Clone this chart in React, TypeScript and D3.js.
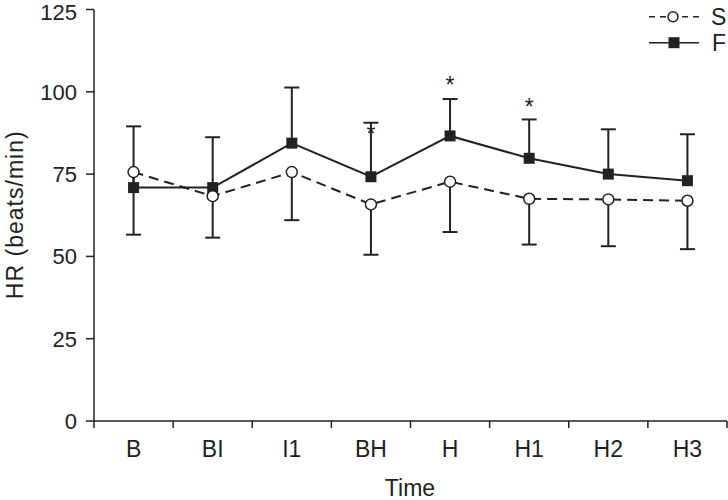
import React from 'react';
import * as d3 from 'd3';

// time points
const categories = ['B', 'BI', 'I1', 'BH', 'H', 'H1', 'H2', 'H3'];

// S group: mean and SD (drawn downward)
const sMean = [75.6, 68.3, 75.6, 65.8, 72.7, 67.5, 67.3, 66.9];
const sSD = [19.0, 12.6, 14.6, 15.3, 15.3, 13.9, 14.2, 14.7];

// F group: mean and SD (drawn upward)
const fMean = [70.9, 70.9, 84.4, 74.2, 86.6, 79.8, 75.0, 73.0];
const fSD = [18.6, 15.3, 16.9, 16.4, 11.2, 11.8, 13.6, 14.1];

// significance marks
const starCats = ['BH', 'H', 'H1'];
const starValues = [89.2, 104.0, 97.4];

const yTicks = [0, 25, 50, 75, 100, 125];

const W = 728;
const H = 500;
const ink = '#222';
const font = '"Liberation Sans", Arial, Helvetica, sans-serif';

export default function App() {
  const x = d3.scaleBand<string>().domain(categories).range([94, 727]).padding(0);
  const y = d3.scaleLinear().domain([0, 125]).range([421, 9.5]);
  const cx = (c: string) => (x(c) as number) + x.bandwidth() / 2;

  const line = d3.line<number>()
    .x((_, i) => cx(categories[i]))
    .y(d => y(d));

  const cap = 7.5;

  return (
    <svg width={W} height={H} style={{ position: 'absolute', left: 0, top: 0, background: '#fff' }}
      fontFamily={font}>
      {/* y axis */}
      <line x1={94} x2={94} y1={y(125)} y2={y(0) + 7} stroke={ink} strokeWidth={1.5} />
      {yTicks.map(t => (
        <g key={t}>
          <line x1={86} x2={94} y1={y(t)} y2={y(t)} stroke={ink} strokeWidth={1.5} />
          <text x={77} y={Math.max(y(t), 12)} dy="0.36em" textAnchor="end" fontSize={22} fill={ink}>{t}</text>
        </g>
      ))}
      <text transform={`translate(23,${y(62.5)}) rotate(-90)`} textAnchor="middle" fontSize={23}
        textLength={168} lengthAdjust="spacing" fill={ink}>
        HR (beats/min)
      </text>

      {/* x axis */}
      <line x1={94} x2={727} y1={y(0)} y2={y(0)} stroke={ink} strokeWidth={1.5} />
      {categories.map(c => (
        <line key={'t' + c} x1={(x(c) as number) + x.bandwidth()} x2={(x(c) as number) + x.bandwidth()}
          y1={y(0)} y2={y(0) + 7} stroke={ink} strokeWidth={1.5} />
      ))}
      {categories.map(c => (
        <text key={'l' + c} x={cx(c)} y={457} textAnchor="middle" fontSize={23} fill={ink}>{c}</text>
      ))}
      <text x={410} y={496} textAnchor="middle" fontSize={23} fill={ink}>Time</text>

      {/* error bars */}
      {categories.map((c, i) => (
        <g key={'e' + c} stroke={ink} strokeWidth={2}>
          <line x1={cx(c)} x2={cx(c)} y1={y(fMean[i])} y2={y(fMean[i] + fSD[i])} />
          <line x1={cx(c) - cap} x2={cx(c) + cap} y1={y(fMean[i] + fSD[i])} y2={y(fMean[i] + fSD[i])} />
          <line x1={cx(c)} x2={cx(c)} y1={y(sMean[i])} y2={y(sMean[i] - sSD[i])} />
          <line x1={cx(c) - cap} x2={cx(c) + cap} y1={y(sMean[i] - sSD[i])} y2={y(sMean[i] - sSD[i])} />
        </g>
      ))}

      {/* lines */}
      <path d={line(sMean) || ''} fill="none" stroke={ink} strokeWidth={2} strokeDasharray="10,6" />
      <path d={line(fMean) || ''} fill="none" stroke={ink} strokeWidth={2} />

      {/* markers */}
      {categories.map((c, i) => (
        <rect key={'f' + c} x={cx(c) - 5.5} y={y(fMean[i]) - 5.5} width={11} height={11} fill={ink} />
      ))}
      {categories.map((c, i) => (
        <circle key={'s' + c} cx={cx(c)} cy={y(sMean[i])} r={5.5} fill="#fff" stroke={ink} strokeWidth={1.5} />
      ))}

      {/* asterisks */}
      {starCats.map((c, i) => (
        <text key={'a' + c} x={cx(c)} y={y(starValues[i])} dy="0.62em" textAnchor="middle" fontSize={23} fill={ink}>*</text>
      ))}

      {/* legend */}
      <line x1={649} x2={699} y1={16.7} y2={16.7} stroke={ink} strokeWidth={1.5} strokeDasharray="6,5" />
      <circle cx={673} cy={16.7} r={5} fill="#fff" stroke={ink} strokeWidth={1.5} />
      <text x={711} y={25} fontSize={23} fill={ink}>S</text>
      <line x1={649} x2={699} y1={42.7} y2={42.7} stroke={ink} strokeWidth={1.5} />
      <rect x={668.5} y={37.2} width={11} height={11} fill={ink} />
      <text x={712} y={51} fontSize={23} fill={ink}>F</text>
    </svg>
  );
}
